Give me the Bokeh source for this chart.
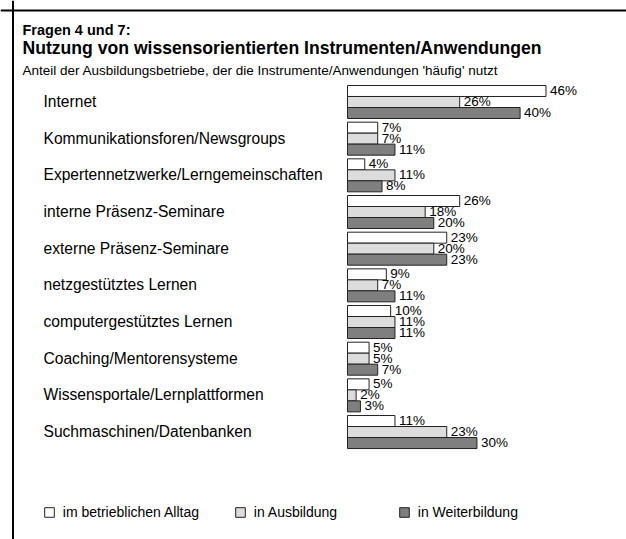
from bokeh.plotting import figure
from bokeh.models import Range1d, Label, Span, Legend, LegendItem, ColumnDataSource
from bokeh.core.properties import value
from bokeh.embed import file_html
from bokeh.resources import INLINE

# ---------------- data ----------------
categories = [
    "Internet",
    "Kommunikationsforen/Newsgroups",
    "Expertennetzwerke/Lerngemeinschaften",
    "interne Präsenz-Seminare",
    "externe Präsenz-Seminare",
    "netzgestütztes Lernen",
    "computergestütztes Lernen",
    "Coaching/Mentorensysteme",
    "Wissensportale/Lernplattformen",
    "Suchmaschinen/Datenbanken",
]
alltag = [46, 7, 4, 26, 23, 9, 10, 5, 5, 11]
ausbildung = [26, 7, 11, 18, 20, 7, 11, 5, 2, 23]
weiterbildung = [40, 11, 8, 20, 23, 11, 11, 7, 3, 30]
series_names = ["im betrieblichen Alltag", "in Ausbildung", "in Weiterbildung"]

title1 = "Fragen 4 und 7:"
title2 = "Nutzung von wissensorientierten Instrumenten/Anwendungen"
subtitle = "Anteil der Ausbildungsbetriebe, der die Instrumente/Anwendungen 'häufig' nutzt"

# ---------------- layout ----------------
W, H = 626, 539
FONT = "Liberation Sans"
PX_PER_PCT = 4.315
ZERO_PX = 347.0          # x pixel of 0 %
GROUP_PX = 36.67         # pixel spacing of groups
GROUP0_PX = 101.5        # y pixel (from top) of first group centre
BAR_H = 0.3              # bar height in group units

X0 = -ZERO_PX / PX_PER_PCT
X1 = (W - ZERO_PX) / PX_PER_PCT
Y_TOP = -GROUP0_PX / GROUP_PX
Y_BOTTOM = (H - GROUP0_PX) / GROUP_PX


def px_x(fx):
    return X0 + fx / PX_PER_PCT


def px_y(fy):
    return Y_TOP + fy / GROUP_PX


p = figure(
    width=W, height=H,
    x_range=Range1d(X0, X1), y_range=Range1d(Y_BOTTOM, Y_TOP),
    output_backend="svg", toolbar_location=None,
    x_axis_type=None, y_axis_type=None,
    min_border=0, outline_line_color=None,
    background_fill_color="white", border_fill_color="white",
)

# frame lines (top and left)
p.add_layout(Span(location=px_y(10), dimension="width", line_color="black", line_width=2))
p.add_layout(Span(location=px_x(12.5), dimension="height", line_color="black", line_width=2))

# titles
p.add_layout(Label(x=px_x(22), y=px_y(29), text=title1, text_font=FONT, text_color="black",
                   text_font_style="bold", text_font_size="14.5px", text_baseline="middle"))
p.add_layout(Label(x=px_x(22), y=px_y(47), text=title2, text_font=FONT, text_color="black",
                   text_font_style="bold", text_font_size="17.6px", text_baseline="middle"))
p.add_layout(Label(x=px_x(22), y=px_y(70), text=subtitle, text_font=FONT, text_color="black",
                   text_font_size="13.5px", text_baseline="middle"))

# category labels
idx = list(range(len(categories)))
cat_src = ColumnDataSource(dict(x=[0] * len(categories), y=idx, text=categories))
p.text(x="x", y="y", text="text", source=cat_src, x_offset=-304, y_offset=-0.5,
       text_font=value(FONT), text_font_size="15.6px", text_baseline="middle",
       text_align="left", text_color="black")

fills = ["#ffffff", "#dcdcdc", "#7f7f7f"]
series = [alltag, ausbildung, weiterbildung]
renderers = []
for k, vals in enumerate(series):
    ys = [i + (k - 1) * BAR_H for i in idx]
    src = ColumnDataSource(dict(y=ys, right=vals, lbl=[f"{v}%" for v in vals]))
    r = p.hbar(y="y", right="right", left=0, height=BAR_H, source=src,
               fill_color=fills[k], line_color="#222222", line_width=1)
    renderers.append(r)
    p.text(x="right", y="y", text="lbl", source=src, x_offset=4, y_offset=-0.5,
           text_font=value(FONT), text_font_size="13.5px", text_baseline="middle",
           text_align="left", text_color="black")

# legends (three separate, positioned like the original)
leg_x = [42.8, 233.8, 397.8]
for k in range(3):
    leg = Legend(items=[LegendItem(label=series_names[k], renderers=[renderers[k]])],
                 location=(leg_x[k], 19.5), orientation="horizontal",
                 glyph_width=12, glyph_height=12, label_height=12,
                 label_standoff=8, padding=0, margin=0, spacing=0,
                 label_text_font=FONT, label_text_font_size="14px",
                 label_text_color="black",
                 border_line_alpha=0, background_fill_alpha=0)
    p.add_layout(leg)

open("out.html", "w").write(file_html(p, INLINE))
